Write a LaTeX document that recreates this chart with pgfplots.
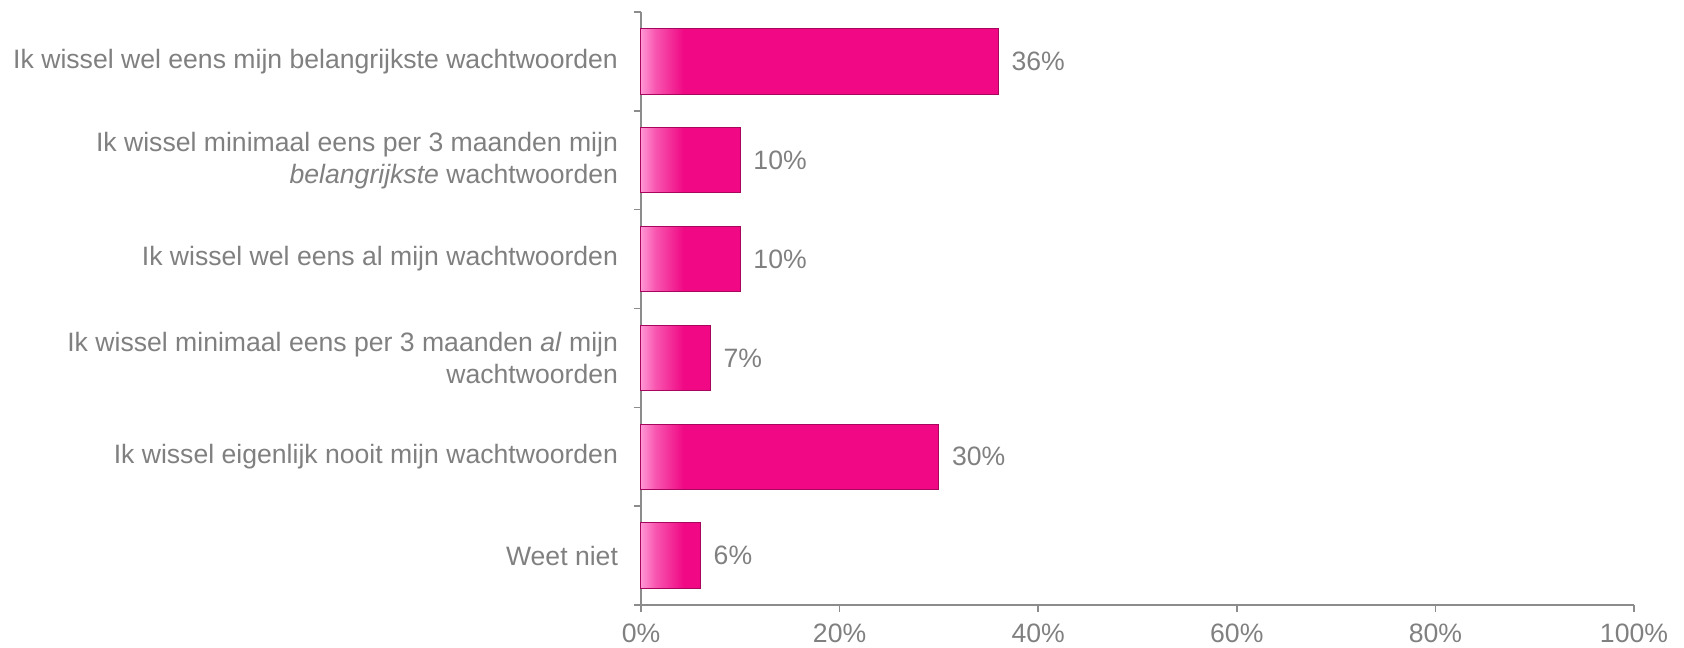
\documentclass[border=0pt]{standalone}
\usepackage{pgfplots}
\pgfplotsset{compat=1.18}
\usepackage{fontspec}
\setmainfont{Liberation Sans}
\definecolor{txtgray}{RGB}{128,128,128}
\definecolor{axgray}{RGB}{140,140,140}
\definecolor{mag}{RGB}{240,8,132}
\definecolor{maglight}{RGB}{255,150,212}
\pgfdeclarehorizontalshading{barshade}{100bp}{color(0bp)=(maglight); color(25bp)=(maglight); color(27bp)=(maglight!55!mag); color(31bp)=(mag); color(100bp)=(mag)}
\begin{document}
\begin{tikzpicture}
\useasboundingbox (-320.5pt,-21pt) rectangle (521.5pt,302.5pt);
\begin{axis}[
  at={(0,0)}, anchor=south west,
  scale only axis,
  width=496.5pt, height=296.5pt,
  xbar, bar width=0.66,
  y dir=reverse,
  xmin=0, xmax=100,
  ymin=-0.5, ymax=5.5,
  axis lines=left,
  axis line style={-, axgray, line width=0.8pt},
  tick style={axgray, line width=0.8pt},
  tick align=outside,
  major tick length=3.5pt,
  xtick={0,20,...,100},
  xticklabel={\pgfmathprintnumber{\tick}\%},
  xticklabel style={font=\fontsize{13.3}{15}\selectfont, text=txtgray, yshift=-2.5pt},
  ytick={-0.5,0.5,1.5,2.5,3.5,4.5,5.5},
  yticklabels={},
  extra y ticks={0,1,2,3,4,5},
  extra y tick labels={
    {Ik wissel wel eens mijn belangrijkste wachtwoorden},
    {Ik wissel minimaal eens per 3 maanden mijn\\\textit{belangrijkste} wachtwoorden},
    {Ik wissel wel eens al mijn wachtwoorden},
    {Ik wissel minimaal eens per 3 maanden \textit{al} mijn\\wachtwoorden},
    {Ik wissel eigenlijk nooit mijn wachtwoorden},
    {Weet niet}},
  extra y tick style={major tick length=0pt,
    yticklabel style={font=\fontsize{13.3}{16}\selectfont, text=txtgray, align=right, xshift=-8pt}},
  /pgf/number format/assume math mode=true,
  nodes near coords={\pgfmathprintnumber{\pgfplotspointmeta}\%},
  every node near coord/.append style={font=\fontsize{13.3}{15}\selectfont, text=txtgray, xshift=3pt},
  clip=false,
]
\addplot[shade, shading=barshade, draw=mag!70!black, line width=0.5pt] coordinates {
  (36,0) (10,1) (10,2) (7,3) (30,4) (6,5)
};
\end{axis}
\end{tikzpicture}
\end{document}
